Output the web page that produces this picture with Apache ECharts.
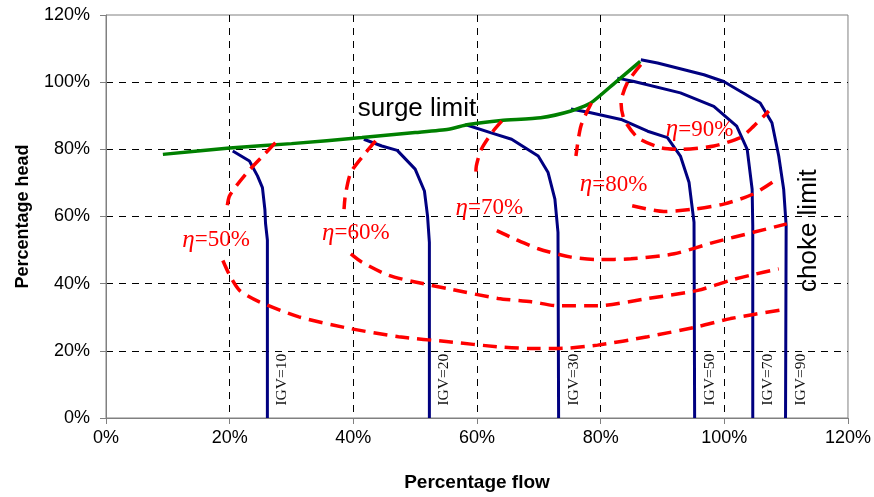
<!DOCTYPE html>
<html>
<head>
<meta charset="utf-8">
<script src="https://cdn.jsdelivr.net/npm/echarts@6/dist/echarts.min.js"></script>
<style>html,body{margin:0;padding:0;background:#fff}#c{width:874px;height:497px}</style>
</head>
<body>
<div id="c"></div>
<script>
// ---- data (percent flow, percent head) ----
const xTicks = [0, 20, 40, 60, 80, 100, 120];
const yTicks = [0, 20, 40, 60, 80, 100, 120];

const surgeLimit = [[9.2,78.5],[20,80.4],[30,81.7],[41.4,83.5],[50,85],[55.4,86],[58.6,87.4],[63.9,88.6],[70.3,89.4],[75.2,91.4],[78.4,93.8],[82.3,99.8],[86.4,106.2]];

const igvNames = ['IGV=10','IGV=20','IGV=30','IGV=50','IGV=70','IGV=90'];
const igv10 = [[20.5,79.5],[23.2,76.5],[24.5,72.1],[25.3,68.6],[25.7,62],[25.8,58],[26.1,53],[26.1,0]];
const igv20 = [[41.7,83.0],[44.6,81.0],[47.1,79.7],[50.0,74.1],[51.5,67.6],[52.0,60.2],[52.3,52.3],[52.3,0]];
const igv30 = [[58.1,87.4],[62.3,84.9],[65.6,83.0],[69.9,78.0],[71.5,73.1],[72.6,65.2],[73.1,55.3],[73.2,0]];
const igv50 = [[75.2,92.0],[78.4,90.9],[83.3,88.9],[87.6,85.4],[90.8,83.5],[92.9,78.0],[94.3,70.1],[95.1,58.3],[95.2,0]];
const igv70 = [[82.7,101.2],[85.4,100.2],[92.9,96.8],[98.3,92.8],[102.0,86.9],[103.7,80.0],[104.5,68.1],[104.6,57.3],[104.6,0]];
const igv90 = [[86.5,106.7],[89.2,105.7],[96.7,102.2],[99.9,100.2],[105.8,93.8],[107.7,87.9],[108.8,78.0],[109.6,68.1],[110.0,57.3],[109.9,0]];
const igvLines = [igv10, igv20, igv30, igv50, igv70, igv90];
const igvLabelHead = 11.4;

const etaNames = ['50%','60%','70%','80%','90%'];
const eta50 = [[27.4,82],[25.6,78.5],[22.6,72.6],[20,66.2],[19.5,61.7],null,[18.9,46.9],[20,42.5],[21.6,38],[24.8,34.6],[31.2,30.1],[39.3,26.7],[47.3,24.2],[55.4,22.7],[63.4,21.2],[68.8,20.7],[73.1,20.7],[79.5,21.7],[87.6,24.2],[95.7,27.2],[101,29.6],[109.6,32.3]];
const eta60 = [[43.6,82.5],[42,79],[39.6,73.1],[38.7,66.2],[38.5,62.2],null,[39.6,48.9],[41.4,46.4],[45.7,42.5],[50,40.5],[55.4,38.5],[63.4,35.6],[68.8,34.6],[73.1,33.4],[79.5,33.4],[87.6,35.6],[95.7,38],[101,41],[104.2,42.5],[108.8,44.4]];
const eta70 = [[64,88.4],[62.6,85.4],[60.7,80],[59.9,75.1],[59.8,71.1],null,[63.2,55.8],[66.1,53.3],[69.9,50.4],[75.2,47.9],[79.5,47.2],[84.9,47.4],[91.9,48.9],[98.3,52.3],[104.7,55.3],[110.1,57.8]];
const eta80 = [[78.5,93.8],[76.8,86.9],[76,78],null,[85.1,63.2],[90.2,61.5],[95.1,62.2],[99.9,63.7],[104.7,66.7],[108.5,71.1]];
const eta90 = [[86.5,105.2],[84.3,99.8],[83.3,93.8],[83.8,88.9],[86,83.5],[89.7,80.5],[92.9,80],[98.3,81],[102.6,83.5],[104.2,85.9],[107.2,91.4]];
const etaCurves = [eta50, eta60, eta70, eta80, eta90];
const etaLabelAt = [[17.8,53],[40.4,55.1],[62,62.5],[82.1,69.5],[96,85.8]];

const surgeLabel = 'surge limit';
const surgeLabelAt = [50.3, 92.1];
const chokeLabel = 'choke limit';
const chokeLabelAt = [113.7, 55.8];

// ---- chart ----
const SANS = 'Liberation Sans, Arial, sans-serif';
const SERIF = 'Liberation Serif, Times New Roman, serif';
const toLine = d => d.map(p => p === null ? ['-','-'] : p);

const series = [];
igvLines.forEach((d, i) => series.push({
  type: 'line', name: igvNames[i], data: d, symbol: 'none', z: 3,
  lineStyle: { color: '#000080', width: 3 }
}));
series.push({
  type: 'line', name: 'surge', data: surgeLimit, symbol: 'none', smooth: 0.2, z: 4,
  lineStyle: { color: '#008000', width: 3.5 }
});
etaCurves.forEach((d, i) => series.push({
  type: 'line', name: 'eta' + etaNames[i], data: toLine(d), symbol: 'none', smooth: 0.25, z: 5,
  connectNulls: false,
  lineStyle: { color: '#ff0000', width: 3.5, type: [14, 8] }
}));
const textOnly = { type: 'scatter', symbolSize: 0, z: 6, silent: true, itemStyle: { opacity: 1, color: 'transparent' } };
// IGV labels (offset is in the rotated frame: +y = screen right)
series.push(Object.assign({}, textOnly, {
  data: igvLines.map((d, i) => ({
    value: [d[d.length - 1][0], igvLabelHead],
    label: { formatter: igvNames[i] }
  })),
  label: { show: true, position: 'inside', rotate: 90, offset: [0, 15],
           fontFamily: SERIF, fontSize: 15.5, color: '#111', textBorderWidth: 0 }
}));
// eta labels
series.push(Object.assign({}, textOnly, {
  data: etaLabelAt.map((p, i) => ({
    value: p, label: { formatter: '{e|\u03b7}{n|=' + etaNames[i] + '}' }
  })),
  label: { show: true, position: 'inside', textBorderWidth: 0,
    rich: {
      e: { fontFamily: SERIF, fontStyle: 'italic', fontSize: 25, color: '#ff0000' },
      n: { fontFamily: SERIF, fontSize: 23, color: '#ff0000' }
    } }
}));
// surge / choke labels
series.push(Object.assign({}, textOnly, {
  data: [
    { value: surgeLabelAt, label: { formatter: surgeLabel, rotate: 0 } },
    { value: chokeLabelAt, label: { formatter: chokeLabel, rotate: 90 } }
  ],
  label: { show: true, position: 'inside', fontFamily: SANS, fontSize: 26, color: '#000', textBorderWidth: 0 }
}));

const axisCommon = {
  type: 'value', min: 0, max: 120, interval: 20,
  axisLine: { show: true, onZero: false, lineStyle: { color: '#808080', width: 1 } },
  axisTick: { show: true, length: 6, lineStyle: { color: '#808080' } },
  splitLine: { show: true, showMinLine: false, showMaxLine: false,
               lineStyle: { color: '#000', width: 1, type: [7, 6] } },
  nameLocation: 'middle',
  nameTextStyle: { fontFamily: SANS, fontWeight: 'bold', color: '#000' }
};

const chart = echarts.init(document.getElementById('c'), null, { renderer: 'canvas' });
chart.setOption({
  animation: false,
  backgroundColor: '#fff',
  grid: { left: 106, right: 23, top: 15, bottom: 77, show: true, borderColor: '#808080', borderWidth: 1 },
  xAxis: Object.assign({}, axisCommon, {
    name: 'Percentage flow', nameGap: 55,
    nameTextStyle: Object.assign({}, axisCommon.nameTextStyle, { fontSize: 19 }),
    axisLabel: { formatter: v => xTicks.includes(v) ? v + '%' : '', fontFamily: SANS, fontSize: 18, color: '#000', margin: 11 }
  }),
  yAxis: Object.assign({}, axisCommon, {
    name: 'Percentage head', nameGap: 74,
    nameTextStyle: Object.assign({}, axisCommon.nameTextStyle, { fontSize: 18 }),
    axisLabel: { formatter: v => yTicks.includes(v) ? v + '%' : '', fontFamily: SANS, fontSize: 18, color: '#000', margin: 16 }
  }),
  series: series
});
</script>
</body>
</html>
